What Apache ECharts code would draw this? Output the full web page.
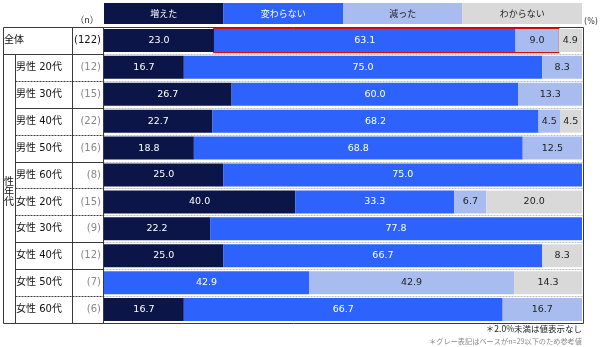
<!DOCTYPE html>
<html><head><meta charset="utf-8">
<script src="https://cdn.jsdelivr.net/npm/echarts@6/dist/echarts.min.js"></script>
<style>html,body{margin:0;padding:0;background:#fff}#c{width:600px;height:347px}</style>
</head><body><div id="c"></div>
<script>
const categories = ['全体','男性 20代','男性 30代','男性 40代','男性 50代','男性 60代','女性 20代','女性 30代','女性 40代','女性 50代','女性 60代'];
const nLabels = ['(122)','(12)','(15)','(22)','(16)','(8)','(15)','(9)','(12)','(7)','(6)'];
const seriesNames = ['増えた','変わらない','減った','わからない'];
const increased = [23.0,16.7,26.7,22.7,18.8,25.0,40.0,22.2,25.0,0,16.7];
const unchanged = [63.1,75.0,60.0,68.2,68.8,75.0,33.3,77.8,66.7,42.9,66.7];
const decreased = [9.0,8.3,13.3,4.5,12.5,0,6.7,0,0,42.9,16.7];
const unknown = [4.9,0,0,4.5,0,0,20.0,0,8.3,14.3,0];
const footnotes = ['＊2.0%未満は値表示なし','＊グレー表記はベースがn=29以下のため参考値'];

(function(){
const values = [increased, unchanged, decreased, unknown];
const colors = ['#0b1548','#2d63fc','#a9bcf0','#d9d9d9'];
const labelColors = ['#ffffff','#ffffff','#222222','#222222'];
const FONT = "Verdana, 'DejaVu Sans', 'Noto Sans CJK JP', sans-serif";
const JFONT = "'Noto Sans CJK JP', sans-serif";

const chart = echarts.init(document.getElementById('c'), null, {renderer:'canvas'});
chart.setOption({
  animation:false,
  grid:{left:104, right:18, top:27, bottom:24, containLabel:false},
  xAxis:{type:'value', min:0, max:100, show:false},
  yAxis:[
    {type:'category', data:categories, inverse:true,
     axisLine:{show:false}, axisTick:{show:false}, splitLine:{show:false},
     axisLabel:{align:'left', margin:100,
       formatter:(v,i)=> i===0 ? '{top|'+v+'}' : '{sub|'+v+'}',
       rich:{top:{fontSize:10, color:'#111', fontFamily:FONT},
             sub:{fontSize:10, color:'#111', fontFamily:FONT, padding:[0,0,0,12]}}}},
    {type:'category', data:nLabels, inverse:true, position:'left',
     axisLine:{show:false}, axisTick:{show:false}, splitLine:{show:false},
     axisLabel:{align:'right', margin:3, fontSize:10, fontFamily:FONT,
       color:(v,i)=> i===0 ? '#111' : '#888'}}
  ],
  series: seriesNames.map((name,k)=>({
    name, type:'bar', stack:'all', yAxisIndex:0, barWidth:23,
    data: values[k], itemStyle:{color:colors[k]},
    label:{show:true, position:'inside', color:labelColors[k], fontSize:9.5, fontFamily:FONT,
      formatter:p=> p.value>=2 ? p.value.toFixed(1) : ''}
  }))
});

const yc = i => chart.convertToPixel({yAxisIndex:0}, categories[i]);
const xp = v => chart.convertToPixel({xAxisIndex:0}, v);
const band = yc(1)-yc(0);
const topY = Math.round(yc(0)-band/2)+0.5;
const bottomY = Math.round(yc(categories.length-1)+band/2)+0.5;
const x0 = xp(0), x100 = xp(100);
const L = 3.5, G = 15.5, N = 72.5, B = 103.5, R = Math.round(x100)+1.5;
const dark = '#3a3a3a';
const g = [];
function line(x1,y1,x2,y2,color,dash,w){
  g.push({type:'line', shape:{x1,y1,x2,y2}, style:{stroke:color, lineWidth:w||1, lineDash:dash||null}, silent:true});
}
const hw = (x100-x0)/4;
seriesNames.forEach((n,k)=>{
  g.push({type:'rect', shape:{x:x0+k*hw, y:3, width:hw, height:21}, style:{fill:colors[k]}});
  g.push({type:'text', x:x0+k*hw+hw/2, y:13.5, style:{text:n, fill:labelColors[k], font:"9px "+JFONT, align:'center', verticalAlign:'middle'}});
});
g.push({type:'text', x:87, y:20, style:{text:'（n）', fill:'#333', font:"9px "+JFONT, align:'center', verticalAlign:'middle'}});
g.push({type:'text', x:591, y:22, style:{text:'(%)', fill:'#444', font:"8px "+FONT, align:'center', verticalAlign:'middle'}});
const solidIdx = [0,2,4,7,8];
for(let i=0;i<categories.length-1;i++){
  const y = Math.round(yc(i)+band/2)+0.5;
  const startX = i===0 ? L : G;
  const solid = solidIdx.includes(i);
  line(startX,y,B,y,dark, solid?null:[2,1]);
  line(B,y,R,y,'#bdbdbd',[2,1]);
}
line(L,topY,R,topY,dark);
line(L,bottomY,R,bottomY,dark);
line(L,topY,L,bottomY,dark);
line(G,Math.round(yc(0)+band/2)+0.5,G,bottomY,dark);
line(N,topY,N,bottomY,dark);
line(B,topY,B,bottomY,dark);
line(R,topY,R,bottomY,dark);
const rx1 = xp(increased[0]), rx2 = xp(increased[0]+unchanged[0]+decreased[0]);
g.push({type:'rect', shape:{x:rx1, y:yc(0)-12, width:rx2-rx1, height:24}, style:{fill:null, stroke:'#d01010', lineWidth:1.6}, silent:true});
const mid = (Math.round(yc(0)+band/2) + bottomY)/2;
g.push({type:'text', x:9, y:mid+2, style:{text:'性\n年\n代', fill:'#111', font:"10px "+JFONT, align:'center', verticalAlign:'middle', lineHeight:10}});
g.push({type:'text', x:582, y:329, style:{text:footnotes[0], fill:'#222', font:"8.5px "+JFONT, align:'right', verticalAlign:'middle'}});
g.push({type:'text', x:582, y:341, style:{text:footnotes[1], fill:'#8a8a8a', font:"7.2px "+JFONT, align:'right', verticalAlign:'middle'}});
chart.setOption({graphic:{elements:g}});
})();
</script></body></html>
